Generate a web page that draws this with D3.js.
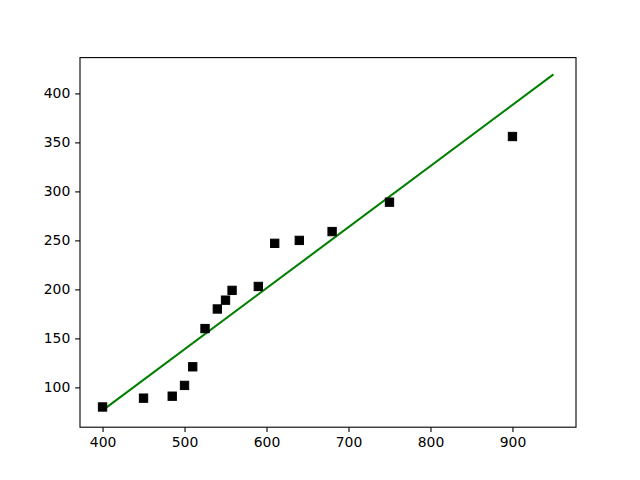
<!DOCTYPE html>
<html><head><meta charset="utf-8">
<script src="https://cdn.jsdelivr.net/npm/d3@7"></script>
<style>body{margin:0;background:#fff}svg{display:block}text{font-family:"DejaVu Sans",sans-serif}</style>
</head><body>
<script>
const xValues = [400,450,485,500,510,525,540,550,558,590,610,640,680,750,900];
const yValues = [80,89,91,102,121,160,180,189,199,203,247,250,259,289,356];
const fitX = [400,950];
const fitY = [76.5,419.4];
const xTicks = [400,500,600,700,800,900];
const yTicks = [100,150,200,250,300,350,400];

const W=640,H=480, L=80, R=576, T=57.6, B=427.2;
const svg=d3.select("body").append("svg").attr("width",W).attr("height",H);
const allX=xValues.concat(fitX), allY=yValues.concat(fitY);
const xmin=d3.min(allX), xmax=d3.max(allX), ymin=d3.min(allY), ymax=d3.max(allY);
const mx=(xmax-xmin)*0.05, my=(ymax-ymin)*0.05;
const x=d3.scaleLinear().domain([xmin-mx,xmax+mx]).range([L,R]);
const y=d3.scaleLinear().domain([ymin-my,ymax+my]).range([B,T]);

const g=svg.append("g");
g.append("g").attr("transform",`translate(0,${B})`)
 .call(d3.axisBottom(x).tickValues(xTicks).tickSize(4.86).tickPadding(4.9).tickFormat(d3.format("d")))
 .call(a=>{a.select(".domain").remove();a.selectAll("line").attr("stroke","#000").attr("stroke-width",1.1);
   a.selectAll("text").attr("font-size","13.9px").attr("fill","#000");});
g.append("g").attr("transform",`translate(${L},0)`)
 .call(d3.axisLeft(y).tickValues(yTicks).tickSize(4.86).tickPadding(4.9).tickFormat(d3.format("d")))
 .call(a=>{a.select(".domain").remove();a.selectAll("line").attr("stroke","#000").attr("stroke-width",1.1);
   a.selectAll("text").attr("font-size","13.9px").attr("fill","#000");});

const clip=svg.append("defs").append("clipPath").attr("id","c").append("rect")
 .attr("x",L).attr("y",T).attr("width",R-L).attr("height",B-T);

svg.append("path").datum(fitX.map((v,i)=>[v,fitY[i]]))
 .attr("d",d3.line().x(d=>x(d[0])).y(d=>y(d[1])))
 .attr("fill","none").attr("stroke","#008000").attr("stroke-width",2.08);

const s=8.33;
svg.append("g").selectAll("rect").data(xValues.map((v,i)=>[v,yValues[i]])).join("rect")
 .attr("x",d=>x(d[0])-s/2).attr("y",d=>y(d[1])-s/2).attr("width",s).attr("height",s)
 .attr("fill","#000").attr("stroke","#000").attr("stroke-width",1);

svg.append("rect").attr("x",L).attr("y",T).attr("width",R-L).attr("height",B-T)
 .attr("fill","none").attr("stroke","#000").attr("stroke-width",1.1);
</script>
</body></html>
